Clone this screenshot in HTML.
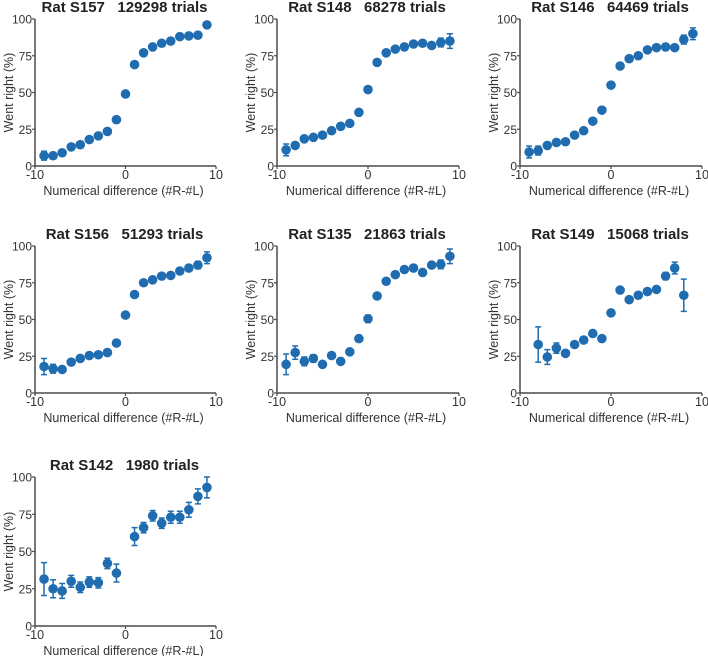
<!DOCTYPE html>
<html><head><meta charset="utf-8"><style>
html,body{margin:0;padding:0;background:#fff;}
svg{display:block;font-family:"Liberation Sans",Arial,sans-serif;}
text{white-space:pre;}
</style></head><body>
<svg id="fig" width="708" height="656" viewBox="0 0 708 656" xmlns="http://www.w3.org/2000/svg"></svg>
<script>
const titles = ["Rat S157   129298 trials","Rat S148   68278 trials","Rat S146   64469 trials","Rat S156   51293 trials","Rat S135   21863 trials","Rat S149   15068 trials","Rat S142   1980 trials"];
const xs1 = [-9,-8,-7,-6,-5,-4,-3,-2,-1,0,1,2,3,4,5,6,7,8,9];
const ys1 = [7,7,9,13,14.5,18,20.5,23.5,31.5,49,69,77,81,83.5,85,88,88.5,89,96];
const es1 = [3,1,1,1,1,1,1,1,1,1,1,1,1,1,1,1,1,1,1.5];
const xs2 = [-9,-8,-7,-6,-5,-4,-3,-2,-1,0,1,2,3,4,5,6,7,8,9];
const ys2 = [11,14,18.5,19.5,21,24,27,29,36.5,52,70.5,77,79.5,81,83,83.5,82,84,85];
const es2 = [4,2,1,1,1,1,1,1,1,1,1,1,1,1,1,1,1.5,3,5];
const xs3 = [-9,-8,-7,-6,-5,-4,-3,-2,-1,0,1,2,3,4,5,6,7,8,9];
const ys3 = [9.5,10.5,14,16,16.5,21,24,30.5,38,55,68,73,75,79,80.5,81,80.5,86,90];
const es3 = [4,3,1,1,1,1,1,1,1,1,1,1,1,1,1,1,1,3,4];
const xs4 = [-9,-8,-7,-6,-5,-4,-3,-2,-1,0,1,2,3,4,5,6,7,8,9];
const ys4 = [18,16.5,16,21,23.5,25.5,26,27.5,34,53,67,75,77,79.5,80,83,85,87,92];
const es4 = [5.5,3,1,1,1,1,1,1,1,1,1,1,1,1,1,1,1,2.5,4];
const xs5 = [-9,-8,-7,-6,-5,-4,-3,-2,-1,0,1,2,3,4,5,6,7,8,9];
const ys5 = [19.5,27.5,21.5,23.5,19.5,25.5,21.5,28,37,50.5,66,76,80.5,84,85,82,87,87.5,93];
const es5 = [7,4.5,3,2.5,1,1,1,1,1,2.5,1,1,1,1,1,1.5,2,3,5];
const xs6 = [-8,-7,-6,-5,-4,-3,-2,-1,0,1,2,3,4,5,6,7,8];
const ys6 = [33,24.5,30.5,27,33,36,40.5,37,54.5,70,63.5,66.5,69,70.5,79.5,85,66.5];
const es6 = [12,5,3.5,1.5,1,1,1,1,1,1,1,1,1,1.5,2.5,4,11];
const xs7 = [-9,-8,-7,-6,-5,-4,-3,-2,-1,1,2,3,4,5,6,7,8,9];
const ys7 = [31.5,25,23.5,30,26,29.5,29,42,35.5,60,66,74,69,73,73,78,87,93];
const es7 = [11,6,5,4,3.5,3.5,3.5,3.5,6,6,3.5,3.5,3.5,4,4,5,5,7];
const xTicks = [-10,0,10];
const yTicks = [0,25,50,75,100];

const panels = [
 {x0:35,x1:216,yt:19,yb:166,xs:xs1,ys:ys1,es:es1},
 {x0:277,x1:459,yt:19,yb:166,xs:xs2,ys:ys2,es:es2},
 {x0:520,x1:702,yt:19,yb:166,xs:xs3,ys:ys3,es:es3},
 {x0:35,x1:216,yt:246,yb:393,xs:xs4,ys:ys4,es:es4},
 {x0:277,x1:459,yt:246,yb:393,xs:xs5,ys:ys5,es:es5},
 {x0:520,x1:702,yt:246,yb:393,xs:xs6,ys:ys6,es:es6},
 {x0:35,x1:216,yt:477,yb:626,xs:xs7,ys:ys7,es:es7}
];
const svg = document.getElementById('fig');
const NS = 'http://www.w3.org/2000/svg';
function mk(tag, attrs, parent, text){
  const e = document.createElementNS(NS, tag);
  for (const k in attrs) e.setAttribute(k, attrs[k]);
  if (text !== undefined) e.textContent = text;
  parent.appendChild(e);
  return e;
}
const AX = '#4a4a4a', BL = '#1f6cb0';
panels.forEach((p, i) => {
  const g = mk('g', {}, svg);
  
  
  const sx = v => p.x0 + (v + 10) / 20 * (p.x1 - p.x0);
  const sy = v => p.yb - v / 100 * (p.yb - p.yt);
  const t = mk('text', {x:(p.x0+p.x1)/2 - 1, y:p.yt - 7, 'text-anchor':'middle', 'font-size':'15', 'font-weight':'bold', fill:'#222'}, g, titles[i]);
  
  
  const ya = mk('line', {x1:p.x0, y1:p.yt, x2:p.x0, y2:p.yb, stroke:AX, 'stroke-width':1.5}, g);
  
  
  const xa = mk('line', {x1:p.x0, y1:p.yb, x2:p.x1, y2:p.yb, stroke:AX, 'stroke-width':1.5}, g);
  
  
  yTicks.forEach(v => {
    mk('line', {x1:p.x0-3, y1:sy(v), x2:p.x0, y2:sy(v), stroke:AX, 'stroke-width':1.2}, g);
    const tl = mk('text', {x:p.x0-3, y:sy(v)+4.5, 'text-anchor':'end', 'font-size':'12', fill:'#333'}, g, String(v));
    
    
  });
  xTicks.forEach(v => {
    mk('line', {x1:sx(v), y1:p.yb, x2:sx(v), y2:p.yb+3, stroke:AX, 'stroke-width':1.2}, g);
    const tl = mk('text', {x:sx(v), y:p.yb+13, 'text-anchor':'middle', 'font-size':'12.5', fill:'#333'}, g, String(v));
    
    
  });
  const xl = mk('text', {x:(p.x0+p.x1)/2 - 2, y:p.yb+29, 'text-anchor':'middle', 'font-size':'12.5', fill:'#333'}, g, 'Numerical difference (#R-#L)');
  
  
  const cy = (p.yt+p.yb)/2, cx = p.x0 - 22;
  const yl = mk('text', {x:cx, y:cy, 'text-anchor':'middle', 'font-size':'12.5', fill:'#333', transform:'rotate(-90 '+cx+' '+cy+')'}, g, 'Went right (%)');
  
  
  p.xs.forEach((xv, j) => {
    const X = sx(xv), Y = sy(p.ys[j]), e = p.es[j];
    if (e > 1.2) {
      const eb = mk('path', {d:'M'+X+' '+sy(p.ys[j]+e)+'V'+sy(p.ys[j]-e)+'M'+(X-3)+' '+sy(p.ys[j]+e)+'H'+(X+3)+'M'+(X-3)+' '+sy(p.ys[j]-e)+'H'+(X+3), stroke:BL, 'stroke-width':1.5, fill:'none'}, g);
      
      
    }
    const c = mk('circle', {cx:X, cy:Y, r:4.8, fill:BL}, g);
    
    
  });
});
</script>
</body></html>
